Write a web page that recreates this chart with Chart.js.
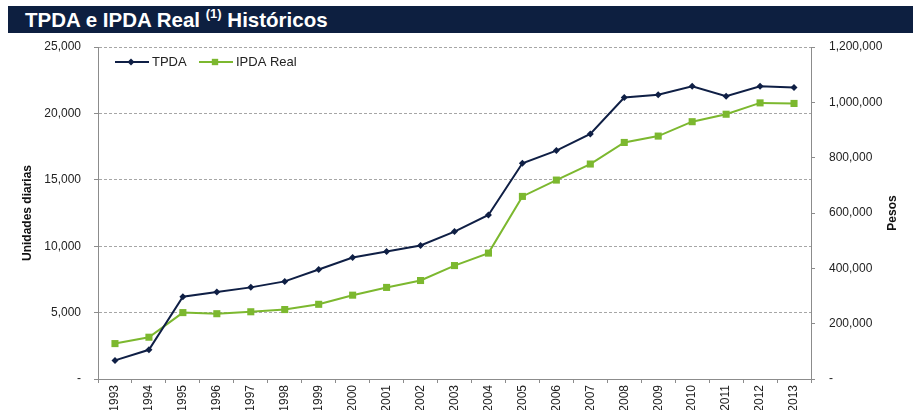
<!DOCTYPE html>
<html>
<head>
<meta charset="utf-8">
<script src="https://cdn.jsdelivr.net/npm/chart.js@4/dist/chart.umd.min.js"></script>
<style>
    html, body { margin: 0; padding: 0; background: #fff; }
    #wrap { position: relative; width: 917px; height: 410px; overflow: hidden; }
    #chart { position: absolute; left: 0; top: 0; }
    .title-bar {
        position: absolute; left: 8px; top: 6px; width: 905px; height: 27px;
        background: #0d1f40; color: #fff; z-index: 2;
        font: bold 20.5px "Liberation Sans", Arial, sans-serif;
        line-height: 28px; padding-left: 17px; box-sizing: border-box;
    }
    .title-bar sup { font-size: 13px; position: relative; top: -2px; vertical-align: top; line-height: 20px; }
</style>
</head>
<body>
<div id="wrap">
    <div class="title-bar">TPDA e IPDA Real <sup>(1)</sup> Históricos</div>
    <canvas id="chart" width="917" height="410"></canvas>
</div>
<script>
// Data
const years = ['1993', '1994', '1995', '1996', '1997', '1998', '1999', '2000', '2001', '2002', '2003',
    '2004', '2005', '2006', '2007', '2008', '2009', '2010', '2011', '2012', '2013'];
const tpda = [1400, 2200, 6200, 6550, 6900, 7350, 8250, 9150, 9600, 10050, 11100,
    12350, 16250, 17200, 18450, 21200, 21400, 22050, 21300, 22050, 21950];
const ipdaReal = [128000, 151000, 240000, 236000, 243000, 251000, 270000, 303000, 331000, 356000, 410000,
    455000, 660000, 719000, 777000, 855000, 878000, 930000, 957000, 998000, 996000];

const navy = '#0f1f45';
const green = '#7cb82f';
const gridGray = '#a6a6a6';
const axisGray = '#8c8c8c';
const tickFont = { family: '"Liberation Sans", Arial, sans-serif', size: 12 };
const narrowFont = '"Liberation Sans Narrow", "Liberation Sans", Arial, sans-serif';

function fmt(value) {
    if (value === 0) return '-';
    return value.toLocaleString('en-US');
}

// Legend and axis titles drawn by hand
const decorations = {
    id: 'decorations',
    afterDraw(chart) {
        const ctx = chart.ctx;
        const area = chart.chartArea;
        ctx.save();

        // legend
        const ly = area.top + 15;
        const items = [
            { x: area.left + 17, label: 'TPDA', color: navy, style: 'rectRot', r: 3.5 },
            { x: area.left + 101, label: 'IPDA Real', color: green, style: 'rect', r: 4.5 }
        ];
        items.forEach(function(it) {
            ctx.strokeStyle = it.color;
            ctx.lineWidth = 2;
            ctx.beginPath();
            ctx.moveTo(it.x, ly);
            ctx.lineTo(it.x + 34, ly);
            ctx.stroke();
            ctx.fillStyle = it.color;
            Chart.helpers.drawPoint(ctx, { pointStyle: it.style, radius: it.r, borderWidth: 0 }, it.x + 16, ly);
            ctx.fillStyle = '#222';
            ctx.font = '13px "Liberation Sans", Arial, sans-serif';
            ctx.textBaseline = 'middle';
            ctx.textAlign = 'left';
            ctx.fillText(it.label, it.x + 37, ly);
        });

        // axis titles
        ctx.fillStyle = '#111';
        ctx.font = 'bold 12px ' + narrowFont;
        ctx.textAlign = 'center';
        ctx.textBaseline = 'middle';
        const midY = (area.top + area.bottom) / 2;
        [[28, 'Unidades diarias'], [893, 'Pesos']].forEach(function(t) {
            ctx.save();
            ctx.translate(t[0], midY);
            ctx.rotate(-Math.PI / 2);
            ctx.fillText(t[1], 0, 0);
            ctx.restore();
        });
        ctx.restore();
    }
};

new Chart(document.getElementById('chart'), {
    type: 'line',
    data: {
        labels: years,
        datasets: [{
            label: 'TPDA',
            data: tpda,
            yAxisID: 'y',
            borderColor: navy,
            backgroundColor: navy,
            borderWidth: 2,
            pointStyle: 'rectRot',
            pointRadius: 3.5,
            pointBorderWidth: 0,
            tension: 0
        }, {
            label: 'IPDA Real',
            data: ipdaReal,
            yAxisID: 'y1',
            borderColor: green,
            backgroundColor: green,
            borderWidth: 2,
            pointStyle: 'rect',
            pointRadius: 5,
            pointBorderWidth: 0,
            tension: 0
        }]
    },
    options: {
        responsive: false,
        animation: false,
        layout: { padding: { top: 47, left: 0, right: 0, bottom: 0 } },
        plugins: {
            legend: { display: false },
            tooltip: { enabled: false }
        },
        scales: {
            x: {
                offset: true,
                grid: { offset: true, drawOnChartArea: false, drawTicks: true, tickLength: 4, color: axisGray },
                border: { color: axisGray, width: 1 },
                ticks: {
                    minRotation: 90, maxRotation: 90, autoSkip: false, padding: 2,
                    color: '#222', font: { family: narrowFont, size: 12 }
                },
                afterFit: function(scale) { scale.height = 31; }
            },
            y: {
                position: 'left',
                min: 0, max: 25000,
                grid: { color: gridGray, tickLength: 4, tickColor: axisGray },
                border: { color: axisGray, width: 1, dash: [3, 2] },
                ticks: { stepSize: 5000, padding: 13, color: '#222', font: tickFont, callback: fmt },
                afterFit: function(scale) { scale.width = 98; }
            },
            y1: {
                position: 'right',
                min: 0, max: 1200000,
                grid: { drawOnChartArea: false, tickLength: 4, color: axisGray },
                border: { color: axisGray, width: 1 },
                ticks: { stepSize: 200000, padding: 14, color: '#222', font: tickFont, callback: fmt },
                afterFit: function(scale) { scale.width = 106; }
            }
        }
    },
    plugins: [decorations]
});
</script>
</body>
</html>
